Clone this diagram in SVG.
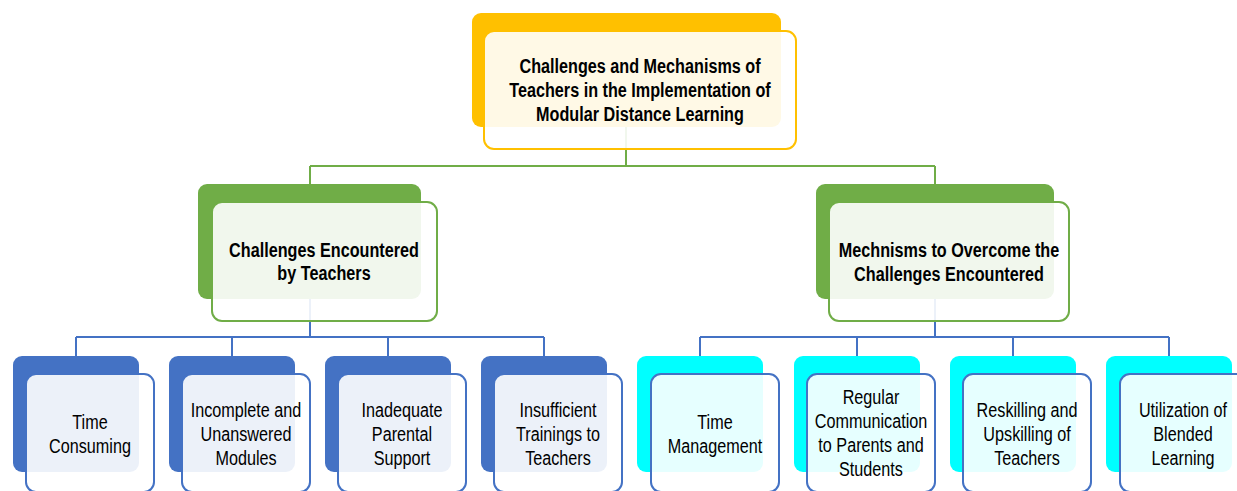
<svg xmlns="http://www.w3.org/2000/svg" width="1237" height="491" viewBox="0 0 1237 491">
<style>
.bg{fill:#ffffff}
.front{fill:#ffffff;fill-opacity:0.9;stroke-width:2}
.gold-b{fill:#FFC000}
.gold-f{stroke:#FFC000}
.green-b{fill:#70AD47}
.green-f{stroke:#70AD47}
.blue-b{fill:#4472C4}
.blue-f{stroke:#4472C4}
.cyan-b{fill:#00FFFF}
.cg{fill:none;stroke:#70AD47;stroke-width:2}
.cb{fill:none;stroke:#4472C4;stroke-width:2}
.tb{font-family:"Liberation Sans",Arial,sans-serif;font-size:20px;font-weight:bold;fill:#000;text-anchor:middle}
.tr{font-family:"Liberation Sans",Arial,sans-serif;font-size:20px;fill:#000;text-anchor:middle}
</style>
<rect class="bg" x="0" y="0" width="1237" height="491"/>
<g id="connectors">
  <path class="cg" d="M626,127 V166 M310,166 H935 M310,166 V184 M935,166 V184"/>
  <path class="cb" d="M310,299 V337 M76,337 H544 M76,337 V356 M232,337 V356 M388,337 V356 M544,337 V356"/>
  <path class="cb" d="M935,299 V337 M700,337 H1169 M700,337 V356 M857,337 V356 M1013,337 V356 M1169,337 V356"/>
</g>
<g id="root">
  <rect class="gold-b" x="472" y="13" width="309" height="114" rx="9"/>
  <rect class="front gold-f" x="484" y="31" width="312" height="118" rx="10"/>
  <text class="tb" transform="translate(640,0) scale(0.81,1)"><tspan x="0" y="73">Challenges and Mechanisms of</tspan><tspan x="0" y="97">Teachers in the Implementation of</tspan><tspan x="0" y="121">Modular Distance Learning</tspan></text>
</g>
<g id="challenges">
  <rect class="green-b" x="198" y="184" width="223" height="115" rx="9"/>
  <rect class="front green-f" x="212" y="202" width="225" height="119" rx="10"/>
  <text class="tb" transform="translate(324,0) scale(0.81,1)"><tspan x="0" y="257">Challenges Encountered</tspan><tspan x="0" y="280">by Teachers</tspan></text>
</g>
<g id="mechanisms">
  <rect class="green-b" x="816" y="184" width="238" height="115" rx="9"/>
  <rect class="front green-f" x="829" y="202" width="240" height="119" rx="10"/>
  <text class="tb" transform="translate(949,0) scale(0.81,1)"><tspan x="0" y="257">Mechnisms to Overcome the</tspan><tspan x="0" y="281">Challenges Encountered</tspan></text>
</g>
<g id="c1">
  <rect class="blue-b" x="13" y="356" width="126" height="116" rx="9"/>
  <rect class="front blue-f" x="26" y="374" width="128" height="118" rx="10"/>
  <text class="tr" transform="translate(90,0) scale(0.81,1)"><tspan x="0" y="429">Time</tspan><tspan x="0" y="453">Consuming</tspan></text>
</g>
<g id="c2">
  <rect class="blue-b" x="169" y="356" width="126" height="116" rx="9"/>
  <rect class="front blue-f" x="182" y="374" width="128" height="118" rx="10"/>
  <text class="tr" transform="translate(246,0) scale(0.81,1)"><tspan x="0" y="417">Incomplete and</tspan><tspan x="0" y="441">Unanswered</tspan><tspan x="0" y="465">Modules</tspan></text>
</g>
<g id="c3">
  <rect class="blue-b" x="325" y="356" width="126" height="116" rx="9"/>
  <rect class="front blue-f" x="338" y="374" width="128" height="118" rx="10"/>
  <text class="tr" transform="translate(402,0) scale(0.81,1)"><tspan x="0" y="417">Inadequate</tspan><tspan x="0" y="441">Parental</tspan><tspan x="0" y="465">Support</tspan></text>
</g>
<g id="c4">
  <rect class="blue-b" x="481" y="356" width="126" height="116" rx="9"/>
  <rect class="front blue-f" x="494" y="374" width="128" height="118" rx="10"/>
  <text class="tr" transform="translate(558,0) scale(0.81,1)"><tspan x="0" y="417">Insufficient</tspan><tspan x="0" y="441">Trainings to</tspan><tspan x="0" y="465">Teachers</tspan></text>
</g>
<g id="m1">
  <rect class="cyan-b" x="637" y="356" width="126" height="116" rx="9"/>
  <rect class="front blue-f" x="651" y="374" width="128" height="118" rx="10"/>
  <text class="tr" transform="translate(715,0) scale(0.81,1)"><tspan x="0" y="429">Time</tspan><tspan x="0" y="453">Management</tspan></text>
</g>
<g id="m2">
  <rect class="cyan-b" x="794" y="356" width="126" height="116" rx="9"/>
  <rect class="front blue-f" x="807" y="374" width="128" height="118" rx="10"/>
  <text class="tr" transform="translate(871,0) scale(0.81,1)"><tspan x="0" y="404">Regular</tspan><tspan x="0" y="428">Communication</tspan><tspan x="0" y="452">to Parents and</tspan><tspan x="0" y="476">Students</tspan></text>
</g>
<g id="m3">
  <rect class="cyan-b" x="950" y="356" width="126" height="116" rx="9"/>
  <rect class="front blue-f" x="963" y="374" width="128" height="118" rx="10"/>
  <text class="tr" transform="translate(1027,0) scale(0.81,1)"><tspan x="0" y="417">Reskilling and</tspan><tspan x="0" y="441">Upskilling of</tspan><tspan x="0" y="465">Teachers</tspan></text>
</g>
<g id="m4">
  <rect class="cyan-b" x="1106" y="356" width="126" height="116" rx="9"/>
  <rect class="front blue-f" x="1120" y="374" width="128" height="118" rx="10"/>
  <text class="tr" transform="translate(1183,0) scale(0.81,1)"><tspan x="0" y="417">Utilization of</tspan><tspan x="0" y="441">Blended</tspan><tspan x="0" y="465">Learning</tspan></text>
</g>
</svg>
